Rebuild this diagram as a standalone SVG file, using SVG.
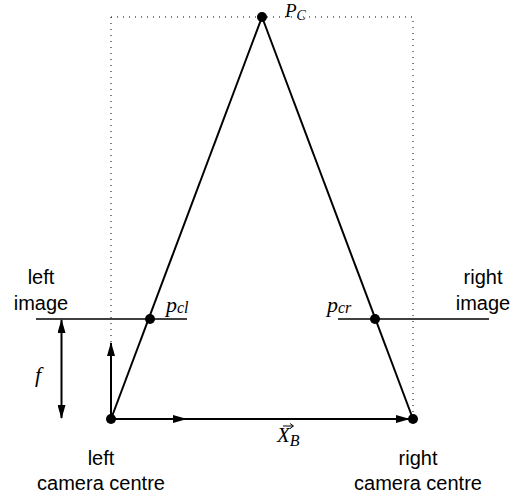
<svg xmlns="http://www.w3.org/2000/svg" width="521" height="501" viewBox="0 0 521 501">
<defs>
<style>
.ln{stroke:#000;stroke-width:2;fill:none}
.img{stroke:#000;stroke-width:1.6;fill:none}
.dot{stroke:#000;stroke-width:1;stroke-dasharray:1 5;fill:none}
.pt{fill:#000}
.lab{font-family:"Liberation Sans",Arial,sans-serif;font-size:20px;fill:#000;text-anchor:middle}
.m{font-family:"Liberation Serif","Times New Roman",serif;font-style:italic;fill:#000}
</style>
<marker id="ah" markerWidth="14" markerHeight="8" refX="13" refY="4" orient="auto-start-reverse" markerUnits="userSpaceOnUse">
<path d="M0,0 L14,4 L0,8 Z" fill="#000"/>
</marker>
</defs>
<rect width="521" height="501" fill="#fff"/>
<g id="connectors">
<path class="dot" d="M111,17 H413 V419 M111,17 V419"/>
<line class="ln" x1="111" y1="419" x2="262" y2="17"/>
<line class="ln" x1="413" y1="419" x2="262" y2="17"/>
<line class="img" x1="36" y1="319" x2="187" y2="319"/>
<line class="img" x1="338" y1="319" x2="489" y2="319"/>
<line class="ln" x1="61.5" y1="320" x2="61.5" y2="418" marker-start="url(#ah)" marker-end="url(#ah)"/>
<line class="ln" x1="111" y1="419" x2="111" y2="343" marker-end="url(#ah)"/>
<line class="ln" x1="111" y1="419" x2="186" y2="419" marker-end="url(#ah)"/>
<line class="ln" x1="186" y1="419" x2="409" y2="419" marker-end="url(#ah)"/>
</g>
<g id="PC">
<circle class="pt" cx="262" cy="17" r="5"/>
<text class="m" x="285" y="17" font-size="19">P<tspan font-size="14" dy="3">C</tspan></text>
</g>
<g id="pcl">
<circle class="pt" cx="150" cy="319" r="5"/>
<text class="m" x="166" y="312" font-size="22">p<tspan font-size="16" dy="1">cl</tspan></text>
</g>
<g id="pcr">
<circle class="pt" cx="375" cy="319" r="5"/>
<text class="m" x="327" y="312" font-size="22">p<tspan font-size="16" dy="1">cr</tspan></text>
</g>
<g id="leftcam">
<circle class="pt" cx="111" cy="419" r="5"/>
<text class="lab" x="101" y="465">left</text>
<text class="lab" x="101" y="490">camera centre</text>
</g>
<g id="rightcam">
<circle class="pt" cx="413" cy="419" r="5"/>
<text class="lab" x="418" y="465">right</text>
<text class="lab" x="418" y="490">camera centre</text>
</g>
<g id="leftimage">
<text class="lab" x="41" y="284">left</text>
<text class="lab" x="41" y="310">image</text>
</g>
<g id="rightimage">
<text class="lab" x="483" y="284">right</text>
<text class="lab" x="483" y="310">image</text>
</g>
<g id="f">
<text class="m" x="35" y="382" font-size="22">f</text>
</g>
<g id="XB">
<text class="m" x="277" y="442" font-size="21">X<tspan font-size="16" dy="4">B</tspan></text>
<path d="M283,426 H293 M290,423.5 L293.5,426 L290,428.5" stroke="#000" stroke-width="1" fill="none"/>
</g>
</svg>
